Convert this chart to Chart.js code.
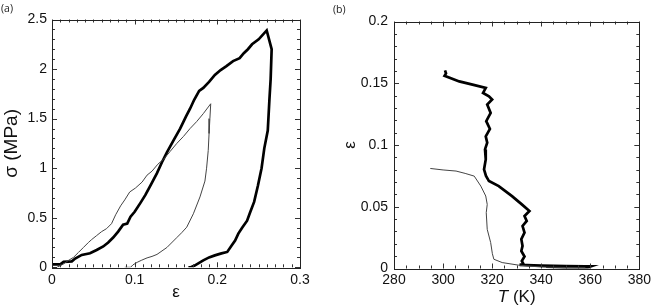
<!DOCTYPE html>
<html><head><meta charset="utf-8">
<script src="https://cdn.jsdelivr.net/npm/chart.js@4"></script>
<style>
html,body{margin:0;padding:0;background:#fff;width:654px;height:306px;overflow:hidden;}
.p{position:absolute;top:0;width:327px;height:306px;}
#wa{left:0}#wb{left:327px}
.lab{position:absolute;font-family:'Open Sans',sans-serif;font-size:10.5px;color:#222}
</style></head><body>
<div class="p" id="wa"><canvas id="ca" width="327" height="306"></canvas></div>
<div class="p" id="wb"><canvas id="cb" width="327" height="306"></canvas></div>
<div class="lab" style="left:1px;top:1px">(a)</div>
<div class="lab" style="left:333px;top:2px">(b)</div>
<script>
// ---------- Panel (a): stress–strain loops ----------
const aThickStrain = [0,0.01,0.014,0.024,0.028,0.036,0.046,0.054,0.062,0.068,0.074,0.080,0.086,0.091,0.095,0.1,0.107,0.113,0.12,0.127,0.133,0.139,0.147,0.155,0.162,0.167,0.172,0.178,0.183,0.19,0.197,0.204,0.211,0.219,0.227,0.232,0.237,0.242,0.25,0.2597,
  0.2657,0.2645,0.263,0.261,0.2568,0.2535,0.249,0.2445,0.2395,0.236,0.23,0.2254,0.2215,0.2173,0.212,0.205,0.197,0.19,0.183,0.177,0.172,0.168,0.165];
const aThickStress = [0.03,0.03,0.055,0.06,0.088,0.125,0.142,0.175,0.21,0.25,0.3,0.36,0.43,0.44,0.51,0.56,0.65,0.73,0.84,0.95,1.06,1.16,1.28,1.40,1.52,1.6,1.69,1.78,1.81,1.87,1.94,1.99,2.03,2.08,2.11,2.16,2.2,2.25,2.3,2.39,
  2.2,1.9,1.69,1.38,1.2,1.0,0.82,0.66,0.55,0.47,0.4,0.34,0.27,0.22,0.155,0.14,0.12,0.1,0.07,0.04,0.015,0,0];
const aThinStrain = [0.006,0.014,0.02,0.026,0.032,0.038,0.044,0.048,0.054,0.06,0.066,0.072,0.077,0.083,0.088,0.094,0.101,0.109,0.115,0.121,0.128,0.135,0.143,0.151,0.159,0.167,0.175,0.183,0.192,
  0.191,0.19,0.189,0.187,0.185,0.179,0.171,0.163,0.157,0.151,0.139,0.127,0.121,0.115,0.108,0.103,0.098,0.095,0.088];
const aThinStress = [0,0.034,0.07,0.1,0.15,0.2,0.25,0.28,0.32,0.36,0.39,0.44,0.53,0.62,0.68,0.76,0.8,0.86,0.93,0.97,1.04,1.09,1.17,1.25,1.32,1.4,1.47,1.55,1.65,
  1.5,1.35,1.18,1.0,0.87,0.71,0.54,0.405,0.35,0.3,0.2,0.13,0.11,0.095,0.07,0.05,0.025,0,0];
const aXTicks = [0,0.1,0.2,0.3];
const aXTickLabels = ['0','0.1','0.2','0.3'];
const aYTicks = [0,0.5,1,1.5,2,2.5];
const aYTickLabels = ['0','0.5','1','1.5','2','2.5'];

// ---------- Panel (b): strain vs temperature ----------
const bThickT = [300.8,301.2,300.6,306.6,312,317.4,316.3,318.7,320,318,319.4,317.6,319.1,317.4,318,317.1,317.4,316.7,317.5,318.7,322.7,328.1,332.1,335.2,333.2,334.1,332.4,333.2,331.9,332.4,331.9,333.2,332.1,332.8,331.2,340,350,358,360.3,359,350,342,350,358,360];
const bThickStrain = [0.1604,0.158,0.156,0.1515,0.1489,0.1462,0.1422,0.1394,0.1368,0.1327,0.126,0.1193,0.113,0.107,0.1018,0.0964,0.0883,0.0802,0.075,0.0708,0.0667,0.0586,0.0519,0.0465,0.0425,0.0385,0.0344,0.029,0.0237,0.0183,0.0142,0.0097,0.0061,0.0035,0.003,0.0024,0.0019,0.0017,0.0017,0.0008,0.001,0.0014,0.0006,0.0004,0.001];
const bThinT = [294.8,300,305.3,309,312.7,315.4,317.4,318,317.6,318,319.4,320.1,320.7,324.1,330.8,340,350,358];
const bThinStrain = [0.081,0.0798,0.0789,0.077,0.0748,0.0667,0.0587,0.0519,0.0452,0.0317,0.021,0.012,0.0075,0.0048,0.0027,0.0012,0.0008,0.0006];
const bXTicks = [280,300,320,340,360,380];
const bXTickLabels = ['280','300','320','340','360','380'];
const bYTicks = [0,0.05,0.1,0.15,0.2];
const bYTickLabels = ['0','0.05','0.1','0.15','0.2'];

const pts = (xs, ys) => xs.map((v, i) => ({x: v, y: ys[i]}));
const FONT = "'Liberation Sans', Arial, sans-serif";
const TXT = '#111';

const framePlugin = {
  id: 'frame',
  afterDatasetsDraw(chart, args, o) {
    const {ctx, chartArea: a, scales: {x, y}} = chart;
    ctx.save();
    ctx.strokeStyle = '#333';
    ctx.lineWidth = 1;
    ctx.beginPath();
    const isMajor = (v, list) => list.some(m => Math.abs(m - v) < 1e-9);
    let n = Math.round((x.max - x.min) / o.xMinor);
    for (let i = 0; i <= n; i++) {
      const v = x.min + i * o.xMinor;
      const px = Math.round(x.getPixelForValue(v)) + 0.5;
      const L = isMajor(v, o.xMajor) ? 5 : 3;
      ctx.moveTo(px, a.bottom); ctx.lineTo(px, a.bottom - L);
      ctx.moveTo(px, a.top); ctx.lineTo(px, a.top + L);
    }
    n = Math.round((y.max - y.min) / o.yMinor);
    for (let i = 0; i <= n; i++) {
      const v = y.min + i * o.yMinor;
      const py = Math.round(y.getPixelForValue(v)) + 0.5;
      const L = isMajor(v, o.yMajor) ? 5 : 3;
      ctx.moveTo(a.left, py); ctx.lineTo(a.left + L, py);
      ctx.moveTo(a.right, py); ctx.lineTo(a.right - L, py);
    }
    ctx.stroke();
    ctx.strokeStyle = '#222';
    ctx.strokeRect(Math.round(a.left) + 0.5, Math.round(a.top) + 0.5, Math.round(a.right - a.left), Math.round(a.bottom - a.top));
    ctx.restore();
  }
};

const tTitlePlugin = {
  id: 'tTitle',
  afterDraw(chart, args, o) {
    if (!o.on) return;
    const ctx = chart.ctx;
    ctx.save();
    ctx.fillStyle = TXT;
    ctx.textBaseline = 'middle';
    const f1 = 'italic 17px ' + FONT, f2 = '17px ' + FONT;
    ctx.font = f1; const w1 = ctx.measureText('T').width;
    ctx.font = f2; const w2 = ctx.measureText(' (K)').width;
    const cx = (chart.chartArea.left + chart.chartArea.right) / 2;
    let x0 = cx - (w1 + w2) / 2;
    ctx.font = f1; ctx.fillText('T', x0, o.y);
    ctx.font = f2; ctx.fillText(' (K)', x0 + w1, o.y);
    ctx.restore();
  }
};

function makeChart(id, cfg) {
  return new Chart(document.getElementById(id), {
    type: 'scatter',
    data: {datasets: cfg.datasets},
    options: {
      responsive: false,
      animation: false,
      layout: {padding: cfg.padding},
      plugins: {legend: {display: false}, tooltip: {enabled: false},
        frame: cfg.frame, tTitle: cfg.tTitle || {on: false}},
      elements: {point: {radius: 0}, line: {tension: 0}},
      scales: {
        x: {
          type: 'linear', min: cfg.xMin, max: cfg.xMax,
          grid: {display: false, drawTicks: false}, border: {display: false},
          afterBuildTicks: s => { s.ticks = cfg.xTicks.map(v => ({value: v})); },
          ticks: {padding: cfg.xPad, color: TXT, font: {family: FONT, size: 14},
            maxRotation: 0, autoSkip: false,
            callback: v => cfg.xLabels[cfg.xTicks.findIndex(t => Math.abs(t - v) < 1e-9)]},
          title: cfg.xTitle,
          afterFit: s => { s.height = cfg.xH; }
        },
        y: {
          type: 'linear', min: cfg.yMin, max: cfg.yMax,
          grid: {display: false, drawTicks: false}, border: {display: false},
          afterBuildTicks: s => { s.ticks = cfg.yTicks.map(v => ({value: v})); },
          ticks: {padding: cfg.yPad, color: TXT, font: {family: FONT, size: 14}, autoSkip: false,
            callback: v => cfg.yLabels[cfg.yTicks.findIndex(t => Math.abs(t - v) < 1e-9)]},
          title: cfg.yTitle,
          afterFit: s => { s.width = cfg.yW; }
        }
      }
    },
    plugins: [framePlugin, tTitlePlugin]
  });
}

makeChart('ca', {
  datasets: [
    {data: pts(aThinStrain, aThinStress), showLine: true, borderColor: '#444', borderWidth: 1},
    {data: pts(aThickStrain, aThickStress), showLine: true, borderColor: '#000', borderWidth: 2.7}
  ],
  padding: {left: 0, top: 19.5, right: 27, bottom: 0},
  xMin: 0, xMax: 0.3, yMin: 0, yMax: 2.5,
  xTicks: aXTicks, xLabels: aXTickLabels, yTicks: aYTicks, yLabels: aYTickLabels,
  xPad: 4, yPad: 5, xH: 306 - 267.3, yW: 52,
  xTitle: {display: true, text: 'ε', color: TXT, font: {family: FONT, size: 17}, padding: {top: 0, bottom: 3.8}},
  yTitle: {display: true, text: 'σ (MPa)', color: TXT, font: {family: FONT, size: 19}, padding: {top: 0.5, bottom: 0}},
  frame: {xMinor: 0.01, xMajor: aXTicks, yMinor: 0.1, yMajor: aYTicks}
});

makeChart('cb', {
  datasets: [
    {data: pts(bThinT, bThinStrain), showLine: true, borderColor: '#444', borderWidth: 1},
    {data: pts(bThickT, bThickStrain), showLine: true, borderColor: '#000', borderWidth: 2.7}
  ],
  padding: {left: 0, top: 21.5, right: 12, bottom: 0},
  xMin: 280, xMax: 380, yMin: 0, yMax: 0.2,
  xTicks: bXTicks, xLabels: bXTickLabels, yTicks: bYTicks, yLabels: bYTickLabels,
  xPad: 3, yPad: 6, xH: 306 - 268.5, yW: 67,
  xTitle: {display: false},
  yTitle: {display: true, text: 'ε', color: TXT, font: {family: FONT, size: 17}, padding: {top: 12.8, bottom: 0}},
  frame: {xMinor: 5, xMajor: bXTicks, yMinor: 0.01, yMajor: bYTicks},
  tTitle: {on: true, y: 297}
});
</script>
</body></html>
